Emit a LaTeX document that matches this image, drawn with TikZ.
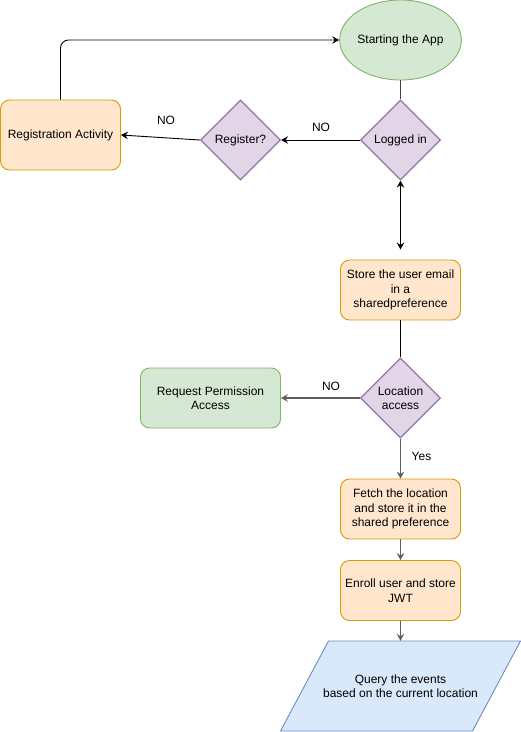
\documentclass[tikz,border=0pt]{standalone}
\usepackage{fontspec}
\setmainfont{Liberation Sans}
\usetikzlibrary{shapes.geometric,arrows.meta}
\definecolor{orF}{HTML}{FFE6CC}\definecolor{orD}{HTML}{D79B00}
\definecolor{grF}{HTML}{D5E8D4}\definecolor{grD}{HTML}{82B366}
\definecolor{puF}{HTML}{E1D5E7}\definecolor{puD}{HTML}{9673A6}
\definecolor{blF}{HTML}{DAE8FC}\definecolor{blD}{HTML}{6C8EBF}
\definecolor{grayL}{HTML}{5E5E5E}
\tikzset{
  every node/.style={font=\fontsize{12}{14.5}\selectfont, align=center, inner sep=0pt},
  obox/.style={draw=orD, fill=orF, rounded corners=9pt, minimum width=120pt, minimum height=60pt, line width=0.9pt},
  gbox/.style={draw=grD, fill=grF, rounded corners=9pt, minimum width=140pt, minimum height=60pt, line width=0.9pt},
  dec/.style={diamond, draw=puD, fill=puF, minimum width=80pt, minimum height=80pt, line width=1.2pt, aspect=1},
  arr/.style={line width=0.9pt, -{Stealth[length=7pt,width=7.5pt,inset=2.5pt]}},
  garr/.style={arr, draw=grayL, line width=1.4pt},
  lbl/.style={font=\fontsize{12}{14}\selectfont}
}
\begin{document}
\begin{tikzpicture}[x=1pt,y=-1pt]
\useasboundingbox (0,0) rectangle (521,732);
\node[ellipse, draw=grD, fill=grF, minimum width=101pt, minimum height=80pt, line width=0.9pt] (start) at (400.5,40) {Starting the App};
\node[dec] (log) at (400.5,140) {Logged in};
\node[dec] (regq) at (240.5,140) {Register?};
\node[obox, minimum height=70pt] (reg) at (60.5,135) {Registration Activity};
\node[obox] (store) at (400.5,290) {Store the user email\\in a\\sharedpreference};
\node[dec] (loc) at (400.5,398) {Location\\access};
\node[gbox] (req) at (210.5,398) {Request Permission\\Access};
\node[obox] (fetch) at (400.5,509) {Fetch the location\\and store it in the\\shared preference};
\node[obox] (enroll) at (400.5,590.5) {Enroll user and store\\JWT};
\draw[draw=blD, fill=blF, line width=0.9pt] (280.5,731) -- (328.5,641) -- (520.5,641) -- (472.5,731) -- cycle;
\node[minimum width=192pt, minimum height=90pt] (query) at (400.5,686) {Query the events\\based on the current location};
% labels
\node[lbl] (no1) at (166,120) {NO};
\node[lbl] (no2) at (321,127) {NO};
\node[lbl] (no3) at (331,386) {NO};
\node[lbl] (yes) at (421.5,456.5) {Yes};
% connectors
\draw[arr, rounded corners=8pt] (reg.north) |- (start.west);
\draw[line width=0.9pt, draw=black!75] (start.south) -- (log.north);
\draw[arr] (log.west) -- (regq.east);
\draw[arr] (regq.west) -- (reg.east);
\draw[arr, {Stealth[length=7pt,width=7.5pt,inset=2.5pt]}-{Stealth[length=7pt,width=7.5pt,inset=2.5pt]}, shorten >=10pt] (log.south) -- (store.north);
\draw[line width=0.9pt] (store.south) -- (loc.north);
\draw[garr] (loc.west) -- (req.east);
\draw[garr] (loc.south) -- (fetch.north);
\draw[garr] (fetch.south) -- (enroll.north);
\draw[garr] (enroll.south) -- (query.north);
\end{tikzpicture}
\end{document}
